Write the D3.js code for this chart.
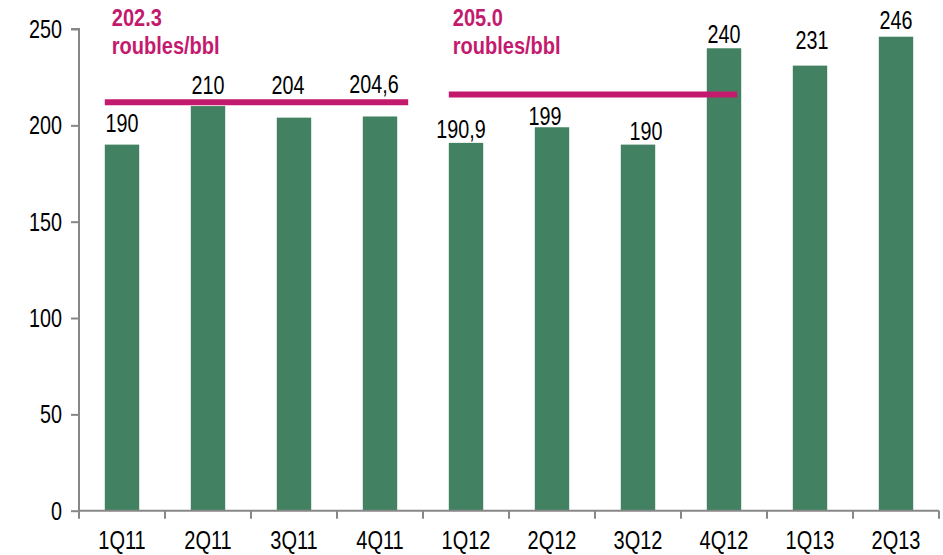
<!DOCTYPE html>
<html>
<head>
<meta charset="utf-8">
<script src="https://cdn.jsdelivr.net/npm/d3@7"></script>
<style>
  body { margin: 0; background: #fff; }
  svg { display: block; }
  text { font-family: 'Liberation Sans', Arial, sans-serif; }
</style>
</head>
<body>
<div id="chart"></div>
<script>
// quarterly values, roubles/bbl
const quarters = ['1Q11', '2Q11', '3Q11', '4Q11', '1Q12', '2Q12', '3Q12', '4Q12', '1Q13', '2Q13'];
const values = [190, 210, 204, 204.6, 190.9, 199, 190, 240, 231, 246];
const valueLabels = ['190', '210', '204', '204,6', '190,9', '199', '190', '240', '231', '246'];
const yTicks = [0, 50, 100, 150, 200, 250];

// yearly averages drawn as bars across the quarters
const avgLabels = ['202.3', '205.0'];
const avgFrom = ['1Q11', '1Q12'];
const avgTo = ['4Q11', '4Q12'];
const avgLevel = [212, 216];

const width = 943;
const height = 555;
const margin = { top: 29, right: 4, bottom: 44, left: 79 };

const green = '#428262';
const magenta = '#c41a6e';
const axisGrey = '#878787';

// no Arial Narrow here, so squeeze Liberation Sans horizontally
function narrow(sel, s) {
  sel.each(function() {
    const t = d3.select(this);
    const tx = +t.attr('x') || 0;
    t.attr('x', 0).attr('transform', `translate(${tx},0) scale(${s},1)`);
  });
}

const svg = d3.select('#chart')
  .append('svg')
  .attr('width', width)
  .attr('height', height);

const x = d3.scaleBand()
  .domain(quarters)
  .range([margin.left, width - margin.right])
  .paddingInner(0.6)
  .paddingOuter(0.3);

const y = d3.scaleLinear()
  .domain([0, 250])
  .range([height - margin.bottom - 0.3, margin.top]);

const step = x.step();
const x0 = margin.left;

// bars
svg.append('g')
  .selectAll('rect')
  .data(values)
  .enter().append('rect')
  .attr('x', (d, i) => x(quarters[i]))
  .attr('y', d => y(d))
  .attr('width', x.bandwidth())
  .attr('height', d => y(0) - y(d))
  .attr('fill', green);

// y axis
const yAxis = svg.append('g')
  .attr('transform', `translate(${x0},0)`)
  .call(d3.axisLeft(y).tickValues(yTicks).tickSize(8).tickPadding(9).tickFormat(d3.format('d')));
yAxis.select('.domain').attr('stroke', axisGrey).attr('stroke-width', 2)
  .attr('d', `M-8,${y(250)}H0V${y(0)}`);
yAxis.selectAll('.tick line').attr('stroke', axisGrey).attr('stroke-width', 2);
yAxis.selectAll('.tick text')
  .attr('font-size', 26)
  .attr('fill', '#000')
  .style('font-family', "'Liberation Sans', Arial, sans-serif")
  .call(narrow, 0.76);

// x axis: labels centred on bars, ticks on category boundaries
const xAxis = svg.append('g')
  .attr('transform', `translate(0,${y(0)})`)
  .call(d3.axisBottom(x).tickSize(0).tickPadding(21));
xAxis.select('.domain').remove();
xAxis.selectAll('.tick text')
  .attr('font-size', 25)
  .attr('fill', '#000')
  .attr('dy', '0.71em')
  .style('font-family', "'Liberation Sans', Arial, sans-serif")
  .call(narrow, 0.8);

svg.append('line')
  .attr('x1', x0).attr('x2', x0 + step * quarters.length)
  .attr('y1', y(0)).attr('y2', y(0))
  .attr('stroke', axisGrey).attr('stroke-width', 2);

svg.append('g')
  .selectAll('line')
  .data(d3.range(quarters.length + 1))
  .enter().append('line')
  .attr('x1', i => x0 + i * step)
  .attr('x2', i => x0 + i * step)
  .attr('y1', y(0))
  .attr('y2', y(0) + 8)
  .attr('stroke', axisGrey)
  .attr('stroke-width', 2);

// value labels (hand-placed in the original, nudged here to match)
const labelGap = [13, 12, 24, 23, 5, 2, 5, 5, 17, 8];
const labelDx = [0, 0, -6, -6, -5, -7, 8, 0, 2, 0];
svg.append('g')
  .selectAll('text')
  .data(values)
  .enter().append('text')
  .attr('x', (d, i) => x(quarters[i]) + x.bandwidth() / 2 + labelDx[i])
  .attr('y', (d, i) => y(d) - labelGap[i])
  .attr('text-anchor', 'middle')
  .attr('font-size', 26)
  .attr('fill', '#000')
  .text((d, i) => valueLabels[i])
  .call(narrow, 0.76);

// average lines + captions
const avg = svg.append('g');
avgLabels.forEach((lab, i) => {
  const xa = x(avgFrom[i]);
  const xb = i === 0 ? x(avgTo[i]) + x.bandwidth() + 11 : x(avgTo[i]) + x.bandwidth() - 4;
  avg.append('line')
    .attr('x1', xa).attr('x2', xb)
    .attr('y1', y(avgLevel[i])).attr('y2', y(avgLevel[i]))
    .attr('stroke', magenta)
    .attr('stroke-width', 6);
  const tx = xa + (i === 0 ? 7 : 4);
  const t = avg.append('text')
    .attr('transform', `translate(${tx},0) scale(0.87,1)`)
    .attr('fill', magenta)
    .attr('font-size', 23)
    .attr('font-weight', 'bold');
  t.append('tspan').attr('x', 0).attr('y', 26).text(lab);
  t.append('tspan').attr('x', 0).attr('y', 54).text('roubles/bbl');
});
</script>
</body>
</html>
